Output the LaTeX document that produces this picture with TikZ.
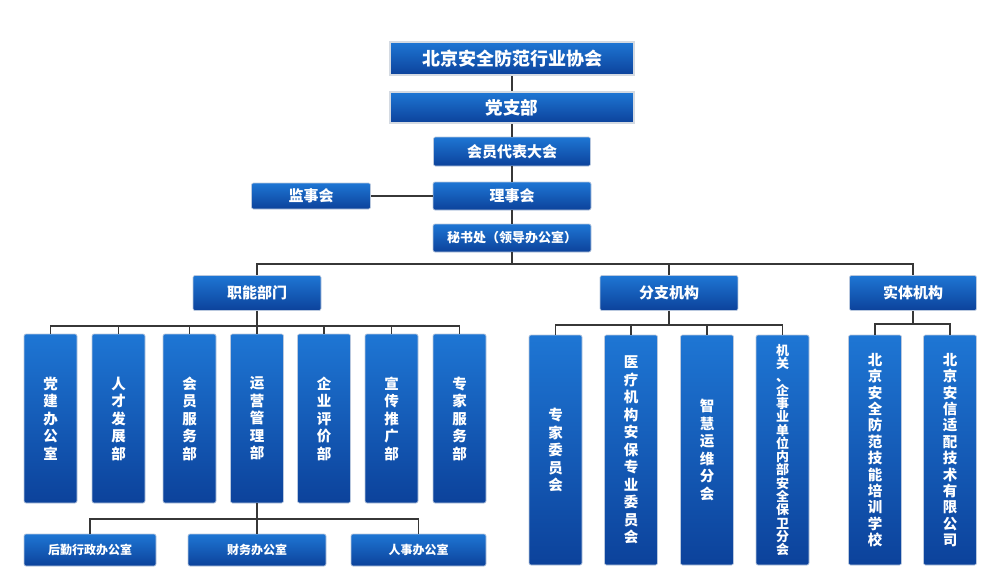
\documentclass[tikz,border=0pt]{standalone}
\usepackage{fontspec}
\newfontfamily\cjk{Noto Sans CJK SC}
\begin{document}
\begin{tikzpicture}[x=1pt,y=-1pt,
  box/.style={rounded corners=2pt, top color=blueTop, bottom color=blueBot,
    draw=edgeC, line width=0.7pt, inner sep=0pt, text=white, align=center},
  topbox/.style={box, rounded corners=0pt, draw=frameC, line width=2pt},
  hfont/.style={font={\cjk\bfseries\fontsize{#1}{#1}\selectfont}},
  vbox/.style={box, minimum width=53pt, font={\cjk\bfseries\fontsize{14.5}{17.5}\selectfont}},
  conn/.style={draw=lineC, line width=1.3pt}
]
\definecolor{blueTop}{RGB}{30,118,212}
\definecolor{blueBot}{RGB}{12,66,155}
\definecolor{edgeC}{RGB}{185,200,222}
\definecolor{frameC}{RGB}{212,218,226}
\definecolor{lineC}{RGB}{55,55,55}
\useasboundingbox (0,0) rectangle (1000,587);

% top chain
\node[topbox, hfont=18, minimum width=244pt, minimum height=33pt] (top) at (512,58.5) {北京安全防范行业协会};
\node[topbox, hfont=17.5, minimum width=244pt, minimum height=31pt] (dang) at (512,107.5) {党支部};
\node[box, hfont=15, minimum width=157pt, minimum height=29pt] (hui) at (512,151.5) {会员代表大会};
\node[box, hfont=15, minimum width=158pt, minimum height=28pt] (li) at (512,196) {理事会};
\node[box, hfont=15, minimum width=119pt, minimum height=26pt] (jian) at (311,196) {监事会};
\node[box, hfont=13, minimum width=158pt, minimum height=28pt] (mi) at (512,238) {秘书处（领导办公室）};

% level 2
\node[box, hfont=15, minimum width=128pt, minimum height=35pt] (zn) at (257,293) {职能部门};
\node[box, hfont=15, minimum width=138pt, minimum height=35pt] (fz) at (669,293) {分支机构};
\node[box, hfont=15, minimum width=127pt, minimum height=35pt] (st) at (913,293) {实体机构};

% functional departments
\node[vbox, minimum height=169pt] (c1) at (50.5,418.5) {党\\建\\办\\公\\室};
\node[vbox, minimum height=169pt] (c2) at (118.5,418.5) {人\\才\\发\\展\\部};
\node[vbox, minimum height=169pt] (c3) at (189.5,418.5) {会\\员\\服\\务\\部};
\node[vbox, minimum height=169pt] (c4) at (257,418.5) {运\\营\\管\\理\\部};
\node[vbox, minimum height=169pt] (c5) at (324,418.5) {企\\业\\评\\价\\部};
\node[vbox, minimum height=169pt] (c6) at (391.5,418.5) {宣\\传\\推\\广\\部};
\node[vbox, minimum height=169pt] (c7) at (459.5,418.5) {专\\家\\服\\务\\部};

% branches
\node[vbox, minimum height=230pt] (f1) at (555.5,450) {专\\家\\委\\员\\会};
\node[vbox, minimum height=230pt] (f2) at (631,450) {医\\疗\\机\\构\\安\\保\\专\\业\\委\\员\\会};
\node[vbox, minimum height=230pt] (f3) at (707,450) {智\\慧\\运\\维\\分\\会};
\node[vbox, minimum height=230pt, font={\cjk\bfseries\fontsize{13}{13.3}\selectfont}] (f4) at (782.5,450) {机\\关\\、\\企\\事\\业\\单\\位\\内\\部\\安\\全\\保\\卫\\分\\会};

% entities
\node[vbox, minimum height=230pt, font={\cjk\bfseries\fontsize{14.5}{16.4}\selectfont}] (s1) at (875,450) {北\\京\\安\\全\\防\\范\\技\\能\\培\\训\\学\\校};
\node[vbox, minimum height=230pt, font={\cjk\bfseries\fontsize{14.5}{16.4}\selectfont}] (s2) at (950,450) {北\\京\\安\\信\\适\\配\\技\\术\\有\\限\\公\\司};

% offices
\node[box, hfont=12, minimum width=132pt, minimum height=32pt] (b1) at (90,550) {后勤行政办公室};
\node[box, hfont=12, minimum width=138pt, minimum height=32pt] (b2) at (257,550) {财务办公室};
\node[box, hfont=12, minimum width=135pt, minimum height=32pt] (b3) at (418.5,550) {人事办公室};

% junctions
\coordinate (hbar) at (512,264);
\coordinate (zbar) at (257,326);
\coordinate (fbar) at (669,325);
\coordinate (sbar) at (913,324);
\coordinate (bbar) at (257,519);

\draw[conn] (top.south) -- (dang.north);
\draw[conn] (dang.south) -- (hui.north);
\draw[conn] (hui.south) -- (li.north);
\draw[conn] (li.south) -- (mi.north);
\draw[conn] (jian.east) -- (li.west);
\draw[conn] (mi.south) -- (hbar);
\draw[conn] (zn.north) |- (hbar) -| (st.north);
\draw[conn] (fz.north) -- (fz.north |- hbar);

\draw[conn] (zn.south) -- (zn.south |- zbar);
\draw[conn] (c1.north) |- (zbar) -| (c7.north);
\foreach \n in {c2,c3,c4,c5,c6} \draw[conn] (\n.north) -- (\n.north |- zbar);

\draw[conn] (fz.south) -- (fz.south |- fbar);
\draw[conn] (f1.north) |- (fbar) -| (f4.north);
\foreach \n in {f2,f3} \draw[conn] (\n.north) -- (\n.north |- fbar);

\draw[conn] (st.south) -- (st.south |- sbar);
\draw[conn] (s1.north) |- (sbar) -| (s2.north);

\draw[conn] (c4.south) -- (bbar);
\draw[conn] (b1.north) |- (bbar) -| (b3.north);
\draw[conn] (b2.north) -- (bbar);
\end{tikzpicture}
\end{document}
